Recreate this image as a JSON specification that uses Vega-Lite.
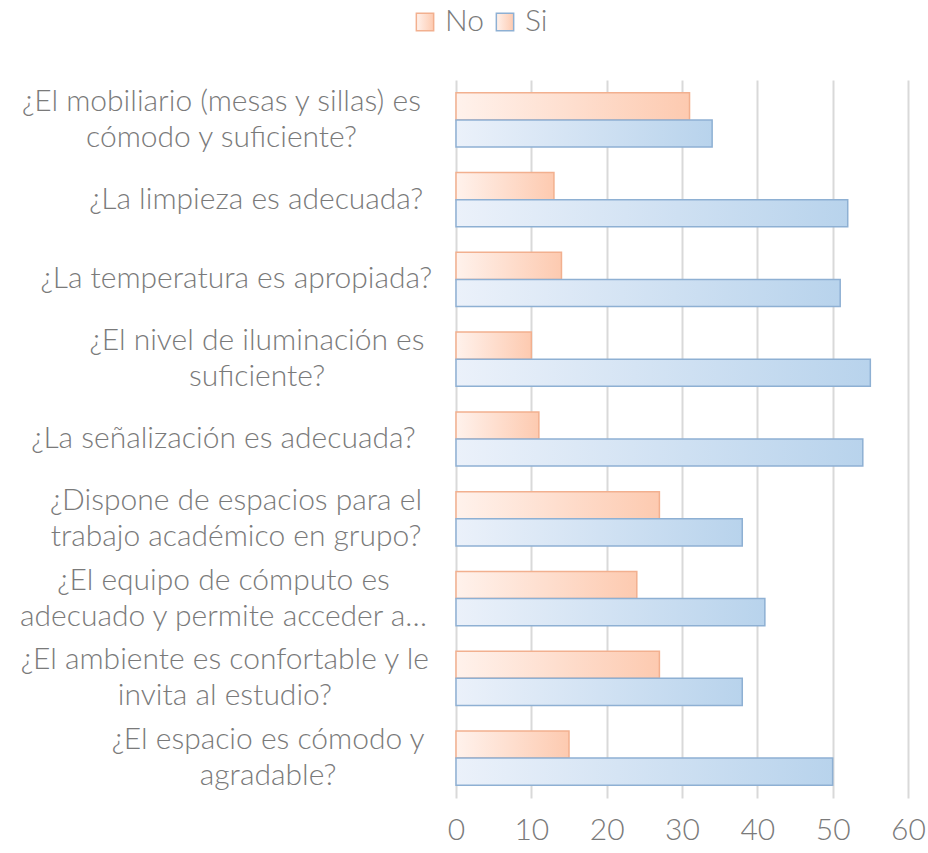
{
  "$schema": "https://vega.github.io/schema/vega-lite/v6.json",
  "width": 452,
  "height": 718,
  "autosize": "none",
  "padding": {"left": 456, "top": 80, "right": 20, "bottom": 55},
  "background": "white",
  "config": {"view": {"stroke": null}, "font": "Lato"},
  "data": {
    "values": [
      {"q": "¿El mobiliario (mesas y sillas) es|cómodo y suficiente?", "serie": "No", "v": 31},
      {"q": "¿El mobiliario (mesas y sillas) es|cómodo y suficiente?", "serie": "Si", "v": 34},
      {"q": "¿La limpieza es adecuada?", "serie": "No", "v": 13},
      {"q": "¿La limpieza es adecuada?", "serie": "Si", "v": 52},
      {"q": "¿La temperatura es apropiada?", "serie": "No", "v": 14},
      {"q": "¿La temperatura es apropiada?", "serie": "Si", "v": 51},
      {"q": "¿El nivel de iluminación es|suficiente?", "serie": "No", "v": 10},
      {"q": "¿El nivel de iluminación es|suficiente?", "serie": "Si", "v": 55},
      {"q": "¿La señalización es adecuada?", "serie": "No", "v": 11},
      {"q": "¿La señalización es adecuada?", "serie": "Si", "v": 54},
      {"q": "¿Dispone de espacios para el|trabajo académico en grupo?", "serie": "No", "v": 27},
      {"q": "¿Dispone de espacios para el|trabajo académico en grupo?", "serie": "Si", "v": 38},
      {"q": "¿El equipo de cómputo es|adecuado y permite acceder a…", "serie": "No", "v": 24},
      {"q": "¿El equipo de cómputo es|adecuado y permite acceder a…", "serie": "Si", "v": 41},
      {"q": "¿El ambiente es confortable y le|invita al estudio?", "serie": "No", "v": 27},
      {"q": "¿El ambiente es confortable y le|invita al estudio?", "serie": "Si", "v": 38},
      {"q": "¿El espacio es cómodo y|agradable?", "serie": "No", "v": 15},
      {"q": "¿El espacio es cómodo y|agradable?", "serie": "Si", "v": 50}
    ]
  },
  "encoding": {
    "y": {
      "field": "q",
      "type": "nominal",
      "sort": null,
      "scale": {"paddingInner": 0.32, "paddingOuter": 0.16},
      "axis": {
        "title": null,
        "domain": false,
        "ticks": false,
        "labelExpr": "split(datum.label, '|')",
        "labelAlign": "center",
        "labelBaseline": "middle",
        "labelFont": "Lato",
        "labelFontWeight": 300,
        "labelFontSize": 30,
        "labelLineHeight": 36,
        "labelColor": "#7a7a7a",
        "labelLimit": 0,
        "labelOffset": {"expr": "indexof(datum.value, '|') >= 0 ? -18 : 0"},
        "labelPadding": {"expr": "31 + 0.5 * max(16.3 * length(split(datum.value + '|', '|')[0]) - 8.6 * length(replace(split(datum.value + '|', '|')[0], regexp('[^ ¿?iljtfr().,]', 'g'), '')), 16.3 * length(split(datum.value + '|', '|')[1]) - 8.6 * length(replace(split(datum.value + '|', '|')[1], regexp('[^ ¿?iljtfr().,]', 'g'), '')))"}
      }
    },
    "yOffset": {"field": "serie", "type": "nominal", "scale": {"domain": ["No", "Si"], "paddingInner": 0, "paddingOuter": 0}},
    "x": {
      "field": "v",
      "type": "quantitative",
      "scale": {"domain": [0, 60], "nice": false},
      "axis": {
        "title": null,
        "values": [0, 10, 20, 30, 40, 50, 60],
        "domain": false,
        "ticks": false,
        "grid": true,
        "gridColor": "#d9d9d9",
        "gridWidth": 2,
        "labelFont": "Lato",
        "labelFontWeight": 300,
        "labelFontSize": 30,
        "labelColor": "#7a7a7a",
        "labelPadding": 17,
        "labelFlush": false
      }
    },
    "stroke": {
      "field": "serie",
      "type": "nominal",
      "scale": {"domain": ["No", "Si"], "range": ["#f2b08f", "#8eb0d3"]},
      "legend": {
        "title": null,
        "orient": "none",
        "direction": "horizontal",
        "legendX": -46,
        "legendY": -73,
        "symbolType": "square",
        "symbolSize": 300,
        "symbolStrokeWidth": 1.5,
        "labelFont": "Lato",
        "labelFontWeight": 300,
        "labelFontSize": 30,
        "labelColor": "#7a7a7a",
        "columnPadding": 6,
        "labelOffset": 5,
        "encode": {
          "symbols": {
            "update": {
              "fill": [
                {"test": "datum.value === 'No'", "value": {"gradient": "linear", "x1": 0, "y1": 0, "x2": 1, "y2": 0, "stops": [{"offset": 0, "color": "#fff2ec"}, {"offset": 1, "color": "#fdcab0"}]}},
                {"value": {"gradient": "linear", "x1": 0, "y1": 0, "x2": 1, "y2": 0, "stops": [{"offset": 0, "color": "#ebf1fa"}, {"offset": 1, "color": "#b8d3ec"}]}}
              ],
              "fillOpacity": {"value": 1}
            }
          }
        }
      }
    }
  },
  "layer": [
    {
      "transform": [{"filter": "datum.serie === 'No'"}],
      "mark": {
        "type": "bar",
        "strokeWidth": 1.5,
        "fill": {"gradient": "linear", "x1": 0, "y1": 0, "x2": 1, "y2": 0, "stops": [{"offset": 0, "color": "#fff2ec"}, {"offset": 1, "color": "#fdcab0"}]}
      }
    },
    {
      "transform": [{"filter": "datum.serie === 'Si'"}],
      "mark": {
        "type": "bar",
        "strokeWidth": 1.5,
        "fill": {"gradient": "linear", "x1": 0, "y1": 0, "x2": 1, "y2": 0, "stops": [{"offset": 0, "color": "#ebf1fa"}, {"offset": 1, "color": "#b8d3ec"}]}
      }
    }
  ]
}
